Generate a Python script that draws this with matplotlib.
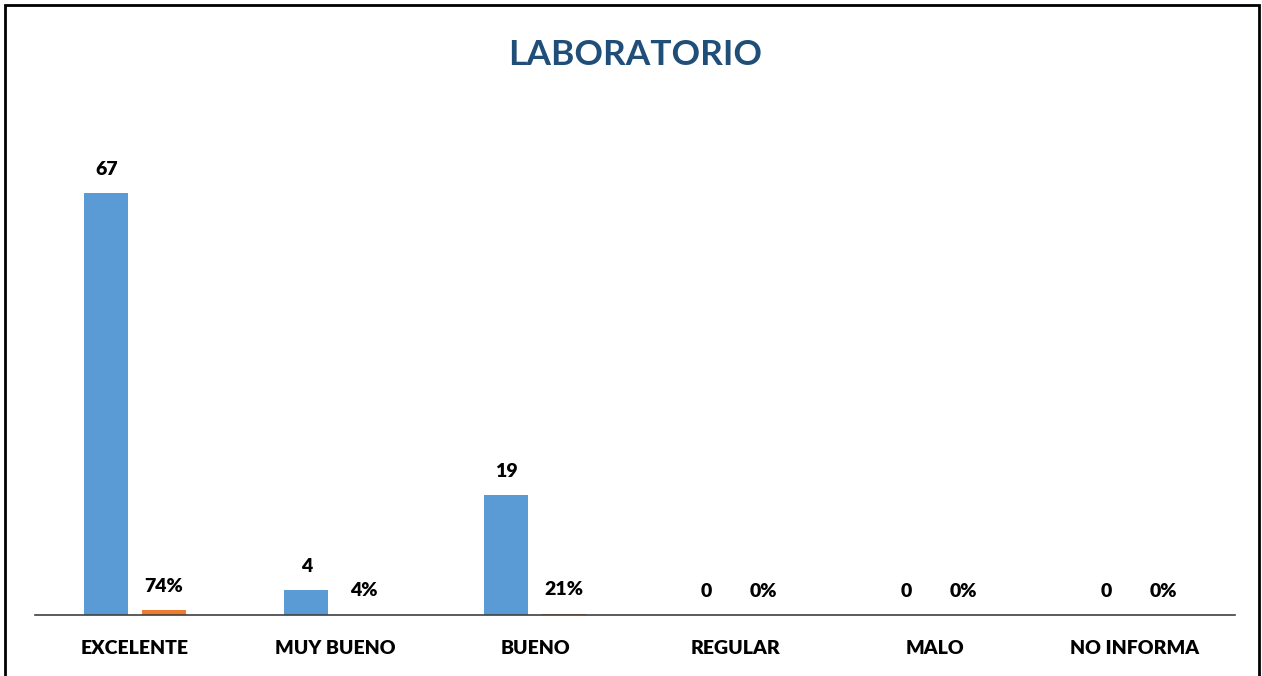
import matplotlib

matplotlib.use("Agg")
import matplotlib.pyplot as plt
import numpy as np
from matplotlib.patches import Rectangle

categories = ["EXCELENTE", "MUY BUENO", "BUENO", "REGULAR", "MALO", "NO INFORMA"]
counts = [67, 4, 19, 0, 0, 0]
shares = [0.74, 0.04, 0.21, 0.0, 0.0, 0.0]
count_labels = ["67", "4", "19", "0", "0", "0"]
share_labels = ["74%", "4%", "21%", "0%", "0%", "0%"]

BLUE = "#5B9BD5"
ORANGE = "#ED7D31"
plt.rcParams["font.family"] = ["Lato", "DejaVu Sans"]

fig = plt.figure(figsize=(12.62, 6.76), dpi=100)
ax = fig.add_axes([35 / 1262, 61 / 676, 1200 / 1262, 504 / 676])

x = np.arange(len(categories))
width = 0.22
off = 0.143
blue = ax.bar(x - off, counts, width, color=BLUE)
orange = ax.bar(x + off, shares, width, color=ORANGE)

for bars, labels in [(blue, count_labels), (orange, share_labels)]:
    for rect, lab in zip(bars, labels):
        ax.annotate(lab, (rect.get_x() + rect.get_width() / 2, rect.get_height()),
                    xytext=(0, 11), textcoords="offset points", ha="center", va="bottom",
                    fontsize=14, fontweight="heavy", color="black")

ax.set_xlim(-0.5, len(categories) - 0.5)
ax.set_ylim(0, 80)
ax.set_xticks(x)
ax.set_xticklabels(categories, fontsize=14, fontweight="heavy")
ax.tick_params(axis="x", length=0, pad=18)
ax.set_yticks([])
for side in ["top", "right", "left"]:
    ax.spines[side].set_visible(False)
ax.spines["bottom"].set_color("#404040")
ax.spines["bottom"].set_linewidth(1.2)

fig.text(635 / 1262, 1 - 55 / 676, "LABORATORIO", ha="center", va="center",
         fontsize=25.5, fontweight="bold", color="#1F4E79")

fig.patches.append(Rectangle((5 / 1262, -0.05), 1254 / 1262, 1.05 - 5 / 676,
                             transform=fig.transFigure, fill=False,
                             edgecolor="black", linewidth=2))

fig.savefig("out.png", dpi=100)
